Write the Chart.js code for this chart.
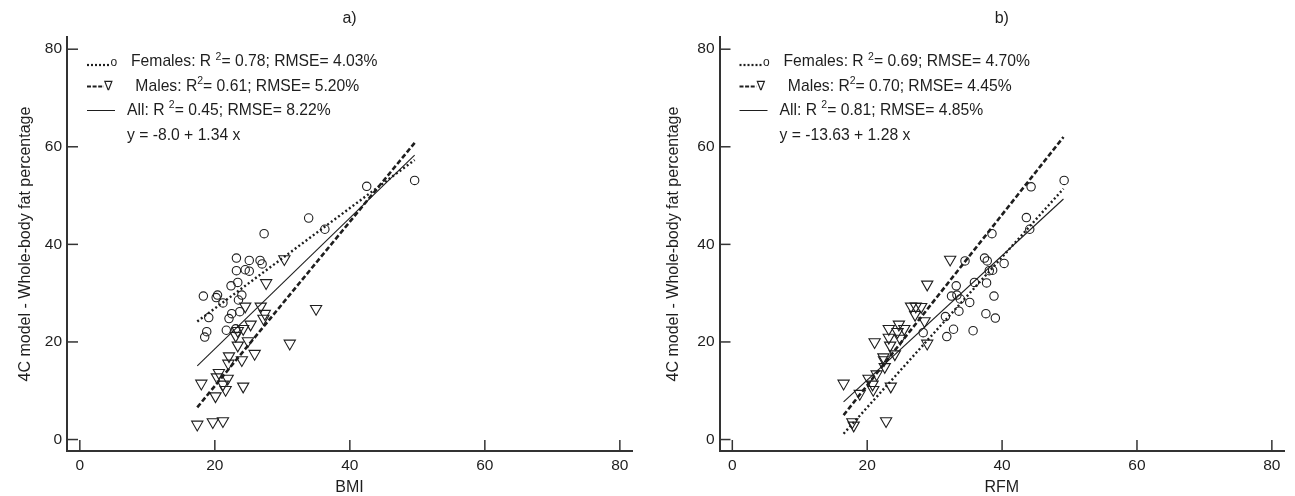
<!DOCTYPE html>
<html>
<head>
  <title>4C model fat percentage vs BMI and RFM</title>
  <script src="https://cdn.jsdelivr.net/npm/chart.js"></script>
  <style>
    body { margin: 0; background: #fff; }
    .panel { position: absolute; top: 0; height: 496px; }
    #panelA { left: 0; width: 650px; }
    #panelB { left: 650px; width: 645px; }
  </style>
</head>
<body>
  <div class="panel" id="panelA"><canvas id="chartA"></canvas></div>
  <div class="panel" id="panelB"><canvas id="chartB"></canvas></div>

  <script>
    // ---- data ----
    const tickValues = [0, 20, 40, 60, 80];

    // panel a) BMI
    const femaleBmi = [49.6, 42.5, 33.9, 36.3, 27.3, 23.2, 25.1, 26.7, 27.0, 23.2, 24.5, 25.1, 23.4, 22.4,
                       24.0, 18.3, 20.4, 20.2, 21.2, 23.5, 19.1, 22.5, 22.1, 23.7, 18.8, 18.5, 21.7, 23.1];
    const femaleFatA = [53.1, 51.9, 45.4, 43.1, 42.2, 37.2, 36.7, 36.7, 36.0, 34.6, 34.8, 34.5, 32.2, 31.5,
                        29.6, 29.4, 29.6, 29.1, 28.0, 28.6, 25.0, 25.8, 24.8, 26.2, 22.1, 21.0, 22.4, 22.7];
    const maleBmi = [30.3, 27.6, 26.8, 35.0, 24.5, 27.4, 27.2, 25.3, 24.2, 23.4, 23.1, 31.1, 25.9, 23.4, 24.9,
                     24.0, 22.1, 22.0, 18.0, 20.6, 20.3, 21.9, 21.2, 21.6, 20.1, 24.2, 17.4, 19.7, 21.2];
    const maleFatA = [37.0, 32.1, 27.3, 26.8, 27.3, 25.8, 24.8, 23.6, 22.7, 22.3, 21.3, 19.7, 17.6, 19.3, 20.2,
                      16.3, 17.1, 15.6, 11.5, 13.7, 12.8, 12.5, 11.3, 10.2, 8.9, 10.9, 3.1, 3.6, 3.8];
    const fitBmi = [17.4, 49.6];
    const femaleFitA = [24.2, 57.3];
    const maleFitA = [6.6, 60.8];
    const allFitA = [15.1, 58.3];

    // panel b) RFM
    const femaleRfm = [49.2, 44.3, 43.6, 44.1, 38.5, 34.5, 37.4, 37.8, 40.3, 38.1, 38.6, 35.9, 37.7, 33.2,
                       38.8, 32.5, 33.3, 33.8, 35.2, 31.6, 33.6, 37.6, 39.0, 31.8, 32.8, 35.7, 28.3];
    const femaleFatB = [53.1, 51.8, 45.5, 43.1, 42.2, 36.6, 37.2, 36.6, 36.1, 34.6, 34.7, 32.2, 32.1, 31.5,
                        29.4, 29.4, 29.6, 28.8, 28.1, 25.2, 26.3, 25.8, 24.9, 21.1, 22.6, 22.3, 21.9];
    const maleRfm = [32.3, 28.9, 26.5, 27.2, 28.0, 27.1, 28.5, 23.2, 24.7, 25.5, 24.5, 23.2, 21.1, 24.9, 23.4,
                     28.9, 22.4, 24.1, 22.5, 22.6, 21.4, 20.2, 16.5, 20.8, 23.5, 18.9, 20.9, 17.8, 18.0, 22.8];
    const maleFatB = [36.9, 31.8, 27.3, 27.3, 27.2, 25.6, 24.3, 22.7, 23.6, 22.7, 22.1, 20.9, 20.0, 20.7, 19.3,
                      19.7, 16.9, 17.5, 16.3, 14.9, 13.4, 12.5, 11.5, 11.3, 10.9, 9.4, 10.2, 3.6, 2.9, 3.8];
    const fitRfm = [16.5, 49.1];
    const femaleFitB = [1.2, 51.4];
    const maleFitB = [5.0, 62.0];
    const allFitB = [7.7, 49.3];

    const legendA = [
      ['Females: R ', '2', '= 0.78; RMSE= 4.03%'],
      [' Males: R', '2', '= 0.61; RMSE= 5.20%'],
      ['All: R ', '2', '= 0.45; RMSE= 8.22%'],
      ['y = -8.0 + 1.34 x']
    ];
    const legendB = [
      ['Females: R ', '2', '= 0.69; RMSE= 4.70%'],
      [' Males: R', '2', '= 0.70; RMSE= 4.45%'],
      ['All: R ', '2', '= 0.81; RMSE= 4.85%'],
      ['y = -13.63 + 1.28 x']
    ];

    const ink = '#1e1e1e';
    const fontFamily = '"Liberation Sans", Arial, sans-serif';

    function pairs(xs, ys) {
      return xs.map((x, i) => ({ x: x, y: ys[i] }));
    }

    // tick marks drawn inward from the axis lines
    const inwardTicks = {
      id: 'inwardTicks',
      afterDraw(chart) {
        const { ctx, chartArea, scales } = chart;
        ctx.save();
        ctx.strokeStyle = '#333';
        ctx.lineWidth = 1.5;
        tickValues.forEach(v => {
          const px = scales.x.getPixelForValue(v);
          ctx.beginPath();
          ctx.moveTo(px, chartArea.bottom);
          ctx.lineTo(px, chartArea.bottom - 11);
          ctx.stroke();
          const py = scales.y.getPixelForValue(v);
          ctx.beginPath();
          ctx.moveTo(chartArea.left, py);
          ctx.lineTo(chartArea.left + 11, py);
          ctx.stroke();
        });
        ctx.restore();
      }
    };

    // panel letter and the stats legend in the top left corner
    const statsLegend = {
      id: 'statsLegend',
      afterDraw(chart, args, opts) {
        const { ctx, chartArea } = chart;
        const left = chartArea.left;
        ctx.save();
        ctx.fillStyle = ink;
        ctx.strokeStyle = ink;
        ctx.textBaseline = 'middle';

        ctx.font = '16px ' + fontFamily;
        ctx.textAlign = 'center';
        ctx.fillText(opts.panel, (chartArea.left + chartArea.right) / 2, 18.5);
        ctx.textAlign = 'left';

        const rowY = [62, 86.5, 110.5, 136];
        const textX = [64, 64, 60, 60];

        // sample marks
        ctx.lineWidth = 2.2;
        ctx.setLineDash([2, 2]);
        ctx.beginPath(); ctx.moveTo(left + 20, rowY[0] + 3); ctx.lineTo(left + 43, rowY[0] + 3); ctx.stroke();
        ctx.setLineDash([4, 1.6]);
        ctx.beginPath(); ctx.moveTo(left + 20, rowY[1]); ctx.lineTo(left + 37, rowY[1]); ctx.stroke();
        ctx.setLineDash([]);
        ctx.lineWidth = 1;
        ctx.beginPath(); ctx.moveTo(left + 20, rowY[2]); ctx.lineTo(left + 48, rowY[2]); ctx.stroke();
        ctx.font = '12px ' + fontFamily;
        ctx.fillText('o', left + 43.5, rowY[0] + 1);
        ctx.font = '13px "DejaVu Sans", sans-serif';
        ctx.fillText('\u2207', left + 37, rowY[1]);

        opts.rows.forEach((row, i) => {
          let x = left + textX[i];
          const y = rowY[i];
          ctx.font = '15.7px ' + fontFamily;
          ctx.fillText(row[0], x, y);
          x += ctx.measureText(row[0]).width;
          if (row.length > 1) {
            ctx.font = '10.5px ' + fontFamily;
            ctx.fillText(row[1], x, y - 5);
            x += ctx.measureText(row[1]).width;
            ctx.font = '15.7px ' + fontFamily;
            ctx.fillText(row[2], x, y);
          }
        });
        ctx.restore();
      }
    };

    function makeChart(canvasId, cfg) {
      const tickFont = { family: fontFamily, size: 15.5 };
      const titleFont = { family: fontFamily, size: 16 };
      return new Chart(document.getElementById(canvasId), {
        type: 'scatter',
        data: {
          datasets: [
            {
              label: 'Females',
              data: pairs(cfg.femaleX, cfg.femaleY),
              pointStyle: 'circle',
              pointRadius: 4.2,
              pointBorderWidth: 1.1,
              borderColor: ink,
              backgroundColor: 'rgba(0,0,0,0)'
            },
            {
              label: 'Males',
              data: pairs(cfg.maleX, cfg.maleY),
              pointStyle: 'triangle',
              pointRotation: 180,
              pointRadius: 6.5,
              pointBorderWidth: 1.1,
              borderColor: ink,
              backgroundColor: 'rgba(0,0,0,0)'
            },
            {
              label: 'Females fit',
              data: pairs(cfg.fitX, cfg.femaleFit),
              showLine: true,
              pointRadius: 0,
              borderColor: ink,
              borderWidth: 2.4,
              borderDash: [2, 2.5]
            },
            {
              label: 'Males fit',
              data: pairs(cfg.fitX, cfg.maleFit),
              showLine: true,
              pointRadius: 0,
              borderColor: ink,
              borderWidth: 2.6,
              borderDash: [5, 2.5]
            },
            {
              label: 'All fit',
              data: pairs(cfg.fitX, cfg.allFit),
              showLine: true,
              pointRadius: 0,
              borderColor: ink,
              borderWidth: 1.1
            }
          ]
        },
        options: {
          responsive: true,
          maintainAspectRatio: false,
          animation: false,
          events: [],
          layout: { padding: { top: 37, right: cfg.padRight, left: 0, bottom: 0 } },
          scales: {
            x: {
              type: 'linear',
              min: -1.9,
              max: 81.8,
              grid: { display: false, drawTicks: false },
              border: { display: true, color: '#333', width: 2 },
              afterBuildTicks: scale => { scale.ticks = tickValues.map(v => ({ value: v })); },
              afterFit: scale => { scale.height = 45; },
              ticks: { font: tickFont, color: ink, padding: 5 },
              title: { display: true, text: cfg.xTitle, font: titleFont, color: ink, padding: { top: 0, bottom: -1 } }
            },
            y: {
              type: 'linear',
              min: -2.35,
              max: 82.5,
              grid: { display: false, drawTicks: false },
              border: { display: true, color: '#333', width: 2 },
              afterBuildTicks: scale => { scale.ticks = tickValues.map(v => ({ value: v })); },
              afterFit: scale => { scale.width = cfg.yWidth; },
              ticks: { font: tickFont, color: ink, padding: 5 },
              title: {
                display: true,
                text: '4C model - Whole-body fat percentage',
                font: titleFont,
                color: ink,
                padding: { top: cfg.yTitlePad, bottom: 0 }
              }
            }
          },
          plugins: {
            legend: { display: false },
            tooltip: { enabled: false },
            title: { display: false },
            statsLegend: { panel: cfg.panel, rows: cfg.rows }
          }
        },
        plugins: [inwardTicks, statsLegend]
      });
    }

    makeChart('chartA', {
      panel: 'a)', xTitle: 'BMI', rows: legendA,
      femaleX: femaleBmi, femaleY: femaleFatA, maleX: maleBmi, maleY: maleFatA,
      fitX: fitBmi, femaleFit: femaleFitA, maleFit: maleFitA, allFit: allFitA,
      yWidth: 67, padRight: 18, yTitlePad: 15.5
    });

    makeChart('chartB', {
      panel: 'b)', xTitle: 'RFM', rows: legendB,
      femaleX: femaleRfm, femaleY: femaleFatB, maleX: maleRfm, maleY: maleFatB,
      fitX: fitRfm, femaleFit: femaleFitB, maleFit: maleFitB, allFit: allFitB,
      yWidth: 69.5, padRight: 11, yTitlePad: 14
    });
  </script>
</body>
</html>
